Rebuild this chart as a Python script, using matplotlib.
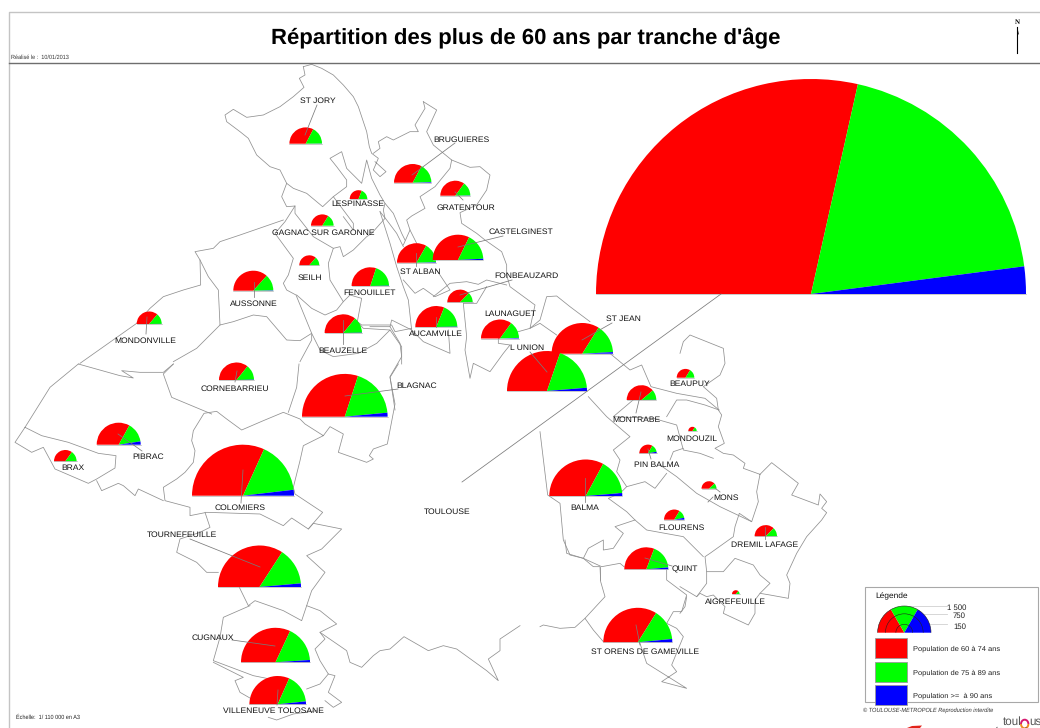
#!/usr/bin/env python3
"""Half-pie map: people over 60 by age band in the Toulouse metropole."""

import matplotlib

matplotlib.use("Agg")
import matplotlib.pyplot as plt
from matplotlib.patches import Arc, Polygon, Rectangle, Wedge

plt.rcParams["font.family"] = ["Liberation Sans", "DejaVu Sans"]
plt.rcParams["text.hinting"] = "no_hinting"

communes = [
    "ST JORY", "BRUGUIERES", "GRATENTOUR", "LESPINASSE", "GAGNAC SUR GARONNE",
    "SEILH", "AUSSONNE", "FENOUILLET", "ST ALBAN", "CASTELGINEST",
    "FONBEAUZARD", "AUCAMVILLE", "BEAUZELLE", "MONDONVILLE", "LAUNAGUET",
    "CORNEBARRIEU", "BLAGNAC", "PIBRAC", "BRAX", "COLOMIERS",
    "TOURNEFEUILLE", "CUGNAUX", "VILLENEUVE TOLOSANE", "ST JEAN", "L UNION",
    "BEAUPUY", "MONTRABE", "MONDOUZIL", "PIN BALMA", "BALMA",
    "MONS", "FLOURENS", "DREMIL LAFAGE", "QUINT", "AIGREFEUILLE",
    "ST ORENS DE GAMEVILLE", "TOULOUSE",
]
pop_60_74 = [
    366, 482, 331, 101, 182, 152, 617, 442, 533, 868, 252, 577, 527, 238, 532,
    462, 2312, 673, 188, 3478, 2476, 1600, 1067, 1344, 2038, 110, 358, 25, 106,
    1844, 90, 147, 197, 628, 22, 1697, 55436,
]
pop_75_89 = [
    191, 245, 139, 62, 87, 58, 220, 290, 260, 456, 85, 345, 204, 90, 220,
    179, 1426, 296, 80, 1791, 1047, 850, 562, 606, 1240, 53, 101, 12, 44,
    886, 28, 58, 66, 362, 8, 730, 37822,
]
pop_90_plus = [
    2, 8, 3, 0, 0, 0, 5, 4, 7, 22, 2, 5, 4, 1, 8,
    4, 116, 49, 1, 204, 101, 54, 56, 33, 88, 0, 2, 0, 9,
    73, 0, 13, 1, 28, 0, 77, 3998,
]
# pie anchors and label centres, in map pixels
pie_x = [
    305.7, 412.7, 455.3, 358.5, 322.3, 309.3, 253.3, 370.3, 416.5, 458,
    460, 436.3, 343.3, 149.2, 500, 236.5, 344.8, 118.7, 65.3, 243,
    259.5, 275.5, 277.7, 582.3, 547, 685.5, 641.5, 692.5, 648, 585.8,
    709, 674.2, 765.8, 646.3, 735.8, 637.8, 811,
]
pie_y = [
    143.7, 182.7, 195.7, 199, 225.7, 265.3, 290.7, 286, 262.7, 260,
    302.3, 327, 333, 324, 338.5, 380, 416.7, 444.7, 461.3, 495.7,
    587, 662.3, 704.3, 353.7, 391, 377.7, 400, 431, 453.3, 496,
    488.7, 519.7, 536.3, 569.3, 594, 642.3, 294,
]
label_x = [
    318, 461, 466, 358, 323, 310, 254, 370, 420, 521,
    526, 436, 343, 145, 510, 235, 417, 148, 73, 240,
    182, 213, 273, 623, 527, 690, 636, 692, 657, 585,
    726, 681, 765, 685, 735, 645, 447,
]
label_y = [
    100, 139, 207, 203.5, 232.5, 277, 303, 292, 271, 231,
    275, 333, 350, 340, 313, 388, 385, 456, 467, 507,
    534, 637, 710, 318, 347, 383, 419, 438, 464, 507,
    497, 527, 544, 569, 601, 651, 511,
]

# leader lines from pie to label
leaders = [
    (317, 105, 305, 135), (455, 143, 412, 175), (463, 200, 455, 192),
    (503, 236, 458, 247), (512, 280, 460, 295), (398, 389, 345, 396),
    (142, 451, 118, 434), (190, 539, 260, 567), (232, 640, 275, 646),
    (612, 323, 582, 340), (530, 352, 547, 372), (672, 566, 645, 558),
    (462, 482, 721, 294), (254, 297, 254, 282), (343, 344, 343, 320),
    (146, 334, 147, 317), (436, 327, 436, 317), (241, 503, 243, 470),
    (235, 382, 237, 371), (585, 502, 585, 478), (277, 705, 278, 690),
    (636, 413, 641, 392), (765, 539, 765, 527), (640, 645, 636, 625),
    (720, 492, 715, 488), (713, 497, 708, 502), (416, 266, 416, 253),
    (651, 459, 648, 449),
]

legend_sizes = [1500, 750, 150]
legend_labels = ["1 500", "750", "150"]
band_labels = [
    "Population de 60 à 74 ans",
    "Population de 75 à 89 ans",
    "Population >=  à 90 ans",
]
band_colors = ["#ff0000", "#00ff00", "#0000ff"]

borders = [
    ((0, 0), [(910, 200), (935, 193), (965, 205), (1000, 225), (1030, 255), (1060, 290), (1075, 320), (1085, 350), (1100, 395), (1108, 440), (1115, 460), (1135, 475), (1120, 510), (1140, 530), (1158, 515), (1125, 485)]),
    ((0, 0), [(910, 200), (915, 225), (898, 235), (912, 262), (880, 290), (840, 320), (790, 345), (740, 352), (700, 328), (675, 345), (680, 365), (720, 395), (745, 415), (770, 465), (810, 500), (840, 510), (860, 550), (880, 565), (920, 580), (968, 620), (1000, 590), (1040, 560), (1040, 540), (1010, 500), (990, 475), (1025, 455), (1040, 505), (1085, 550), (1100, 480), (1115, 535), (1140, 585), (1155, 610), (1180, 640), (1205, 700), (1215, 720)]),
    ((0, 0), [(860, 550), (845, 590), (860, 620), (885, 618), (855, 665), (825, 700), (880, 775), (865, 825), (850, 850), (860, 870), (888, 885), (935, 1000), (900, 1022), (860, 1020), (800, 950), (760, 945), (700, 965), (660, 975), (655, 870), (625, 830), (600, 780), (585, 755), (640, 745), (660, 725), (720, 705), (850, 660)]),
    ((0, 0), [(600, 780), (602, 855), (550, 870), (490, 890), (450, 925), (410, 970), (240, 1090)]),
    ((0, 0), [(885, 618), (885, 640), (940, 710), (1000, 745), (1020, 740), (1030, 770), (1060, 750), (1100, 710), (1115, 700), (1155, 655), (1150, 630), (1155, 610)]),
    ((0, 0), [(1000, 745), (985, 790), (990, 840), (1030, 905), (1010, 930), (975, 945), (935, 925), (890, 885)]),
    ((0, 0), [(1000, 590), (1060, 670), (1060, 690), (1030, 650)]),
    ((0, 0), [(1030, 905), (1050, 885), (1085, 895), (1072, 965), (1085, 975), (1175, 975), (1185, 995), (1235, 985)]),
    ((0, 0), [(1072, 965), (1090, 985), (1170, 990), (1130, 1030), (1075, 1060), (1000, 1070), (960, 1050), (935, 1000), (935, 1020), (900, 1085)]),
    ((0, 0), [(1170, 990), (1205, 1040), (1205, 1092)]),
    ((0, 0), [(660, 975), (590, 1045), (520, 1085)]),
    ((0, 364), [(1195, 0), (1170, 40), (1185, 120), (1162, 240), (1120, 255), (1108, 275), (1120, 285), (1100, 295), (1015, 265), (1030, 210), (990, 188), (970, 215), (915, 180), (900, 165), (850, 145), (790, 170), (725, 198), (680, 165), (650, 142), (612, 148), (580, 200), (575, 230), (585, 260), (580, 295), (555, 325), (530, 345), (490, 370), (495, 410), (570, 430), (570, 455), (620, 445), (780, 450), (850, 485), (875, 462), (925, 495), (968, 445), (885, 390), (880, 370), (900, 290), (910, 245), (970, 215)]),
    ((0, 364), [(897, 0), (890, 70), (865, 145)]),
    ((0, 364), [(520, 0), (490, 30), (515, 100), (635, 150)]),
    ((0, 364), [(235, 0), (150, 70), (75, 190), (45, 235), (95, 265), (130, 250), (165, 315), (265, 358), (290, 345), (345, 312), (348, 275), (295, 268), (205, 235), (125, 215), (75, 190)]),
    ((0, 364), [(235, 0), (360, 35), (400, 42), (365, 20), (420, 25), (490, 25), (520, 0)]),
    ((0, 364), [(290, 350), (305, 380), (355, 358), (370, 365), (405, 395), (415, 375), (490, 410)]),
    ((0, 364), [(615, 445), (630, 490), (600, 505), (540, 525), (530, 565), (590, 595), (620, 625), (655, 625)]),
    ((0, 364), [(718, 670), (745, 725), (765, 710), (850, 740), (905, 770), (920, 725), (935, 680), (975, 625), (920, 575), (965, 555), (1025, 495), (940, 478), (925, 495)]),
    ((0, 364), [(750, 725), (670, 760), (660, 820), (640, 890), (760, 935), (810, 945)]),
    ((0, 364), [(640, 895), (730, 940), (705, 950), (720, 985), (755, 1005)]),
    ((0, 364), [(920, 725), (960, 740), (1010, 780), (960, 805), (975, 825), (945, 855), (960, 890), (985, 930), (1005, 935), (985, 985), (1025, 1015), (1000, 1030), (975, 1010)]),
    ((0, 364), [(985, 930), (960, 960), (920, 975)]),
    ((0, 364), [(960, 805), (1040, 860), (1050, 895), (1085, 910), (1120, 875), (1140, 860), (1170, 855), (1212, 818), (1285, 860), (1330, 845), (1370, 855), (1460, 920), (1495, 950), (1465, 885), (1500, 860), (1500, 825), (1560, 785)]),
    ((0, 364), [(805, 1060), (830, 1068), (880, 1050), (950, 1040)]),
    ((370, 90), [(160, 35), (200, 60), (170, 125), (175, 135), (190, 165), (245, 210), (300, 232), (330, 230), (360, 255), (350, 300), (320, 345), (270, 368), (275, 400), (320, 430), (345, 450), (395, 485), (410, 525), (410, 555), (420, 590), (495, 645), (480, 715), (510, 690), (530, 620), (560, 618), (600, 650), (660, 695)]),
    ((370, 90), [(160, 35), (165, 55), (135, 105), (145, 125), (120, 125), (70, 150), (50, 140), (25, 155), (30, 175), (10, 190)]),
    ((370, 90), [(245, 210), (240, 235), (195, 290), (150, 320), (165, 355), (125, 378), (110, 390), (120, 420), (100, 465)]),
    ((370, 90), [(120, 420), (150, 480)]),
    ((370, 90), [(30, 365), (50, 390), (80, 430), (100, 470)]),
    ((370, 90), [(30, 365), (60, 460), (80, 530), (100, 590), (115, 630), (125, 720), (160, 755), (240, 790), (235, 720)]),
    ((370, 90), [(200, 540), (240, 600), (195, 620), (160, 595), (135, 610), (100, 570)]),
    ((370, 90), [(190, 620), (240, 580), (290, 575), (325, 583), (350, 570), (410, 585)]),
    ((370, 90), [(350, 590), (320, 640), (280, 640), (290, 740), (285, 780), (300, 865), (310, 820), (360, 845), (400, 790), (420, 765), (385, 760), (385, 745), (445, 725), (480, 715), (510, 700), (560, 735)]),
    ((370, 90), [(125, 720), (65, 690), (60, 710), (0, 710)]),
    ((370, 90), [(60, 710), (90, 760), (95, 800), (60, 860), (75, 960)]),
    ((520, 280), [(272, 222), (330, 270), (365, 255), (393, 320), (470, 340), (555, 355), (597, 390)]),
    ((520, 280), [(205, 350), (260, 410), (330, 470), (280, 510), (300, 540), (290, 575), (320, 620), (375, 605), (405, 625), (440, 580)]),
    ((520, 280), [(420, 555), (470, 590), (530, 640), (600, 680), (695, 725)]),
    ((520, 280), [(357, 345), (280, 410), (400, 415), (470, 435), (490, 510), (540, 520), (580, 535)]),
    ((520, 280), [(440, 410), (470, 360), (500, 360), (555, 375), (597, 390)]),
    ((520, 280), [(490, 505), (460, 515), (450, 540)]),
    ((520, 280), [(60, 455), (83, 645), (120, 670), (130, 780), (150, 825), (190, 835), (245, 860), (300, 850), (312, 860)]),
    ((520, 280), [(320, 620), (300, 640), (265, 655), (320, 695), (345, 720), (285, 740), (310, 760), (280, 805), (250, 810), (250, 780), (205, 805), (190, 835)]),
    ((520, 280), [(345, 720), (380, 750), (490, 770), (550, 830)]),
    ((520, 280), [(240, 860), (240, 900)]),
    ((680, 320), [(0, 100), (10, 65), (30, 45), (130, 85), (135, 130), (120, 165), (70, 200), (110, 235), (115, 270), (125, 285), (115, 320), (133, 370), (105, 385), (130, 400), (160, 405), (195, 430), (190, 445), (240, 463), (275, 428), (355, 490), (335, 525), (415, 555), (420, 522), (440, 545), (425, 565), (440, 578), (425, 600), (380, 650), (350, 700), (320, 765), (330, 790), (325, 835), (270, 825), (240, 820), (270, 790), (240, 765), (220, 735), (165, 715), (130, 755), (80, 755), (75, 710), (90, 700), (160, 650), (165, 620), (178, 580), (215, 605), (235, 545), (230, 515), (240, 463)]),
    ((680, 320), [(80, 755), (80, 790), (50, 830), (0, 800)]),
    ((680, 320), [(50, 830), (60, 820), (80, 830), (100, 825), (135, 860), (130, 880), (205, 915), (225, 880), (225, 840), (240, 820)]),
    ((680, 320), [(20, 830), (15, 860), (0, 880)]),
    ((540, 540), [(75, 0), (80, 40), (130, 55), (160, 80), (180, 80), (182, 125), (195, 170), (135, 235), (160, 270), (190, 305)]),
    ((540, 540), [(135, 235), (105, 262), (60, 265), (10, 255), (0, 260)]),
    ((540, 540), [(380, 90), (380, 120), (440, 165), (425, 215), (400, 215), (380, 250), (410, 265), (430, 290), (395, 375), (410, 395), (365, 425), (440, 445), (320, 370), (300, 310)]),
]

LINE_GREY = "#909090"
PIE_SCALE = 26.7 / 1500 ** 0.5  # pixels per sqrt(person)


def pie_radius(total):
    return PIE_SCALE * total ** 0.5


def draw_half_pie(ax, x, y, values):
    # y axis points down, so the upper half runs from -180 to 0 degrees
    radius = pie_radius(sum(values))
    start = -180.0
    for value, color in zip(values, band_colors):
        sweep = 180.0 * value / sum(values)
        ax.add_patch(Wedge((x, y), radius, start, start + sweep, facecolor=color,
                           edgecolor="none", zorder=3))
        start += sweep
    ax.plot([x - radius, x + radius], [y, y], color="#a0a0a0", lw=0.4, zorder=3)


fig = plt.figure(figsize=(10.4, 7.28), dpi=100)
ax = fig.add_axes([0, 0, 1, 1])
ax.set_xlim(0, 1040)
ax.set_ylim(728, 0)
ax.axis("off")

# page frame
ax.plot([1040, 8.5, 8.5], [11.5, 11.5, 728], color="#c4c4c4", lw=1.0)
ax.plot([8.5, 1040], [63.3, 63.3], color="#6e6e6e", lw=1.0)

ax.text(526, 38.5, "Répartition des plus de 60 ans par tranche d'âge", fontsize=15.9,
        fontweight="bold", ha="center", va="center")
ax.text(11, 57.5, "Réalisé le :  10/01/2013", fontsize=4, color="#333333", va="center")
ax.text(16, 717.5, "Échelle:  1/ 110 000 en A3", fontsize=4.0, color="#222222", va="center")

# north arrow
ax.plot([1017.3, 1017.3], [27, 53], color="black", lw=0.8)
ax.add_patch(Polygon([(1017.3, 27), (1019, 35), (1017.3, 33)], facecolor="black",
                     edgecolor="none"))
ax.text(1017.3, 22.5, "N", fontsize=5, fontweight="bold", family="Liberation Serif",
        ha="center", va="center")

for (ox, oy), points in borders:
    xs = [ox + px / 3 for px, _ in points]
    ys = [oy + py / 3 for _, py in points]
    ax.plot(xs, ys, color=LINE_GREY, lw=0.55, zorder=1, solid_joinstyle="round")

for i, name in enumerate(communes):
    draw_half_pie(ax, pie_x[i], pie_y[i], (pop_60_74[i], pop_75_89[i], pop_90_plus[i]))
    ax.text(label_x[i], label_y[i] + 0.8, name, fontsize=6.1, color="#111111",
            ha="center", va="center", zorder=5)

for x0, y0, x1, y1 in leaders:
    ax.plot([x0, x1], [y0, y1], color="#7a7a7a", lw=0.55, zorder=4)

# legend box
ax.add_patch(Rectangle((865.3, 587.3), 172.7, 114.4, facecolor="white",
                       edgecolor="#a8a8a8", lw=0.8, zorder=2))
ax.text(875.5, 596.5, "Légende", fontsize=6.0, color="#111111", va="center", zorder=5)
legend_x, legend_y = 904.3, 632.7
legend_radius = pie_radius(legend_sizes[0])
start = -180.0
for color in band_colors:
    ax.add_patch(Wedge((legend_x, legend_y), legend_radius, start, start + 60,
                       facecolor=color, edgecolor="none", zorder=3))
    start += 60
for size, text, text_y in zip(legend_sizes, legend_labels, [607.7, 616, 627]):
    radius = pie_radius(size)
    ax.add_patch(Arc((legend_x, legend_y), 2 * radius, 2 * radius, theta1=180, theta2=360,
                     color="#222222", lw=0.4, zorder=4))
    ax.plot([legend_x, 947], [legend_y - radius, legend_y - radius], color="#d0d0d0",
            lw=0.6, zorder=2.5)
    ax.text(966, text_y, text, fontsize=5.6, color="#222222", ha="right", va="center", zorder=5)

for color, text, box_y in zip(band_colors, band_labels, [638.3, 661.7, 685]):
    ax.add_patch(Rectangle((875, box_y), 31.7, 20, facecolor=color, edgecolor="#9a9a9a",
                           lw=0.6, zorder=4))
    ax.text(913.3, box_y + 10.6, text, fontsize=5.4, color="#222222", va="center", zorder=5)

ax.text(863, 710.5, "© TOULOUSE-METROPOLE Reproduction interdite", fontsize=4.05,
        fontstyle="italic", color="#333333", va="center")

# logo, cut by the page edge
ax.add_patch(Polygon([(907, 728), (912, 726), (922, 725.5), (920, 728)],
                     facecolor="#e2231a", edgecolor="none"))
ax.text(1002.5, 721.5, "toul", fontsize=8.4, color="#555555", va="center")
ax.add_patch(Arc((1024.7, 724), 7.4, 8.6, theta1=180, theta2=360, color="#d6186f", lw=1.4))
ax.add_patch(Arc((1024.7, 724), 7.4, 8.6, theta1=0, theta2=180, color="#f08a24", lw=1.4))
ax.text(1029.3, 721.5, "us", fontsize=8.4, color="#555555", va="center")
ax.text(984, 732, "métropole", fontsize=8, color="#555555", va="center", clip_on=True)

fig.savefig("out.png", dpi=100)
